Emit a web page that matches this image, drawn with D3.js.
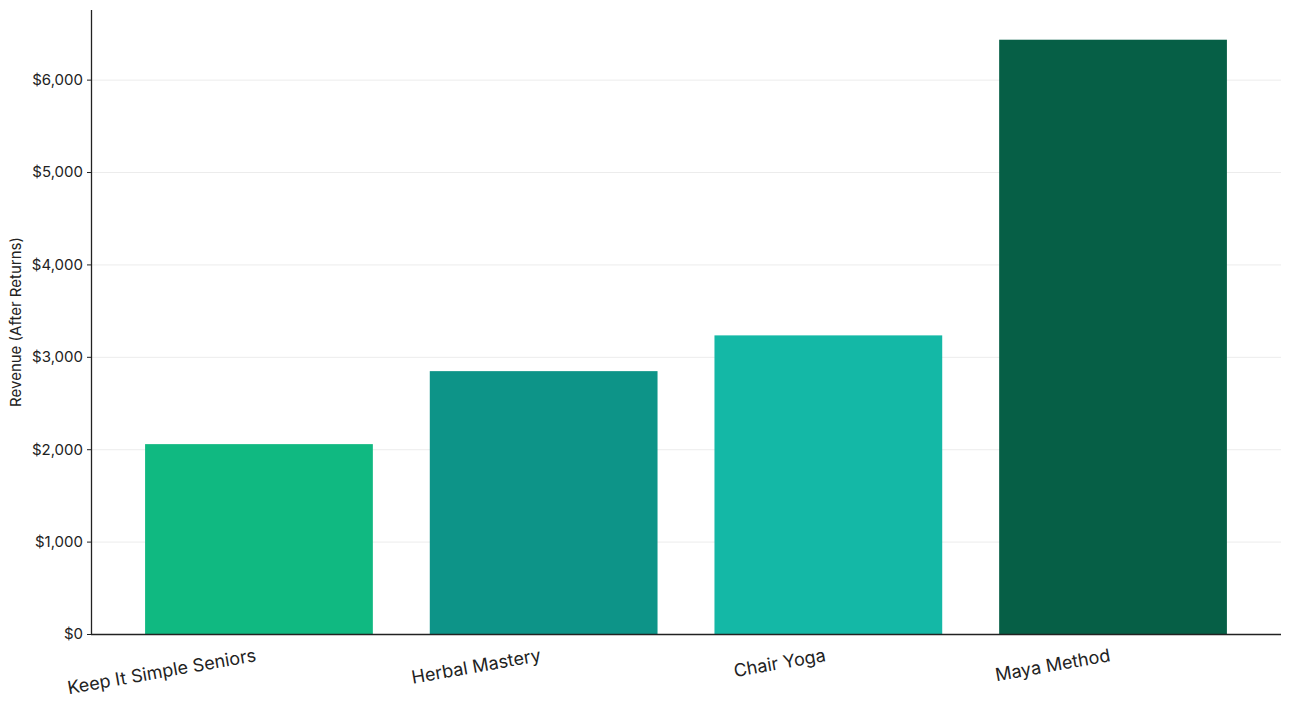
<!DOCTYPE html>
<html lang="en">
<head>
    <meta charset="UTF-8">
    <title>Revenue (After Returns)</title>
    <script src="https://d3js.org/d3.v7.min.js"></script>
    <style>
        body { margin: 0; background: #fff; }
        svg { font-family: Inter, "Noto Sans", sans-serif; }
        .grid line { stroke: #ececec; stroke-width: 1; }
        .axis path, .axis line { stroke: #222; }
        .axis text { fill: #222; }
    </style>
</head>
<body>
    <svg id="chart" width="1290" height="709"></svg>

    <script>
        // Chart data
        const programs = ["Keep It Simple Seniors", "Herbal Mastery", "Chair Yoga", "Maya Method"];
        const revenue = [2055, 2845, 3232, 6432];
        const barColors = ["#10b981", "#0d9488", "#14b8a6", "#065f46"];
        const yTicks = [0, 1000, 2000, 3000, 4000, 5000, 6000];

        const svg = d3.select("#chart");
        const margin = { top: 10, right: 9, bottom: 75, left: 91 };
        const width = +svg.attr("width") - margin.left - margin.right;
        const height = +svg.attr("height") - margin.top - margin.bottom;

        const chart = svg.append("g").attr("transform", `translate(${margin.left},${margin.top})`);

        const x = d3.scaleBand()
            .domain(programs)
            .range([0, width])
            .paddingInner(0.2)
            .paddingOuter(0.19);

        const y = d3.scaleLinear()
            .domain([0, d3.max(revenue) * 1.05])
            .range([height, 0]);

        // horizontal grid
        chart.append("g")
            .attr("class", "grid")
            .selectAll("line")
            .data(yTicks.filter(d => d > 0))
            .join("line")
            .attr("x1", 0)
            .attr("x2", width)
            .attr("y1", d => y(d) + 0.5)
            .attr("y2", d => y(d) + 0.5);

        // bars
        chart.selectAll(".bar")
            .data(programs)
            .join("rect")
            .attr("class", "bar")
            .attr("x", d => x(d))
            .attr("y", (d, i) => y(revenue[i]))
            .attr("width", x.bandwidth())
            .attr("height", (d, i) => height - y(revenue[i]))
            .attr("fill", (d, i) => barColors[i]);

        // y axis
        const yAxis = chart.append("g")
            .attr("class", "axis")
            .call(d3.axisLeft(y).tickValues(yTicks).tickSize(4).tickPadding(4)
                .tickFormat(d => "$" + d3.format(",")(d)))
            .attr("font-family", "Inter, sans-serif");
        yAxis.select(".domain").attr("d", `M0.5,0V${height}`).attr("stroke-width", 1.3);
        yAxis.selectAll("text").style("font-size", "15px");

        // x axis
        const xAxis = chart.append("g")
            .attr("class", "axis")
            .attr("transform", `translate(0,${height})`)
            .call(d3.axisBottom(x).tickSize(0).tickPadding(0))
            .attr("font-family", "Inter, sans-serif");
        xAxis.select(".domain").attr("d", `M0,0.5H${width}`).attr("stroke-width", 1.3);
        xAxis.selectAll("text")
            .style("font-size", "18px")
            .attr("text-anchor", "end")
            .attr("dy", null)
            .attr("y", null)
            .attr("transform", "translate(-2,27) rotate(-10)");

        // y label
        svg.append("text")
            .attr("transform", `translate(21,${margin.top + height / 2}) rotate(-90)`)
            .attr("text-anchor", "middle")
            .attr("font-family", "Inter, sans-serif")
            .style("font-size", "15px")
            .attr("fill", "#222")
            .text("Revenue (After Returns)");
    </script>
</body>
</html>
